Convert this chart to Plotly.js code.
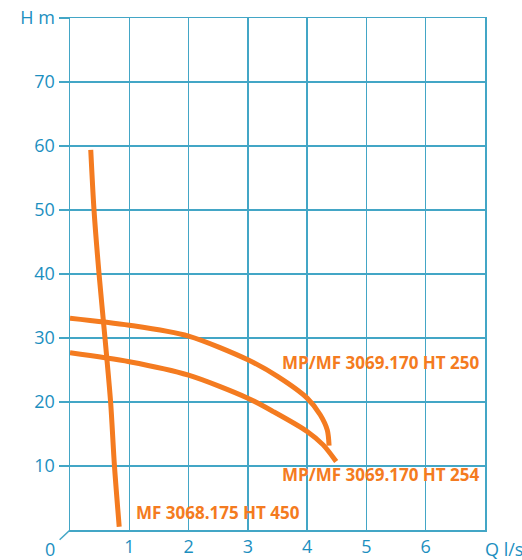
<!DOCTYPE html>
<html>
<head>
<meta charset="utf-8">
<script src="https://cdn.plot.ly/plotly-3.0.1.min.js"></script>
<style>html,body{margin:0;padding:0;background:#fff;}#chart{width:522px;height:560px;}</style>
</head>
<body>
<div id="chart"></div>
<script>
// Data
const curve250Q = [0, 1, 2, 3, 3.5, 4, 4.22, 4.34, 4.37];
const curve250H = [33.1, 32.0, 30.3, 26.6, 24.0, 20.6, 18.0, 15.6, 13.2];
const curve254Q = [0, 1, 2, 3, 3.43, 4, 4.27, 4.49];
const curve254H = [27.7, 26.3, 24.2, 20.6, 18.5, 15.4, 13.3, 10.7];
const curve450Q = [0.35, 0.405, 0.49, 0.59, 0.685, 0.75, 0.83];
const curve450H = [59.4, 50, 40, 30, 20, 10, 0.5];
const xTickVals = [1, 2, 3, 4, 5, 6, 7];
const xTickText = ['1', '2', '3', '4', '5', '6', ''];
const yTickVals = [10, 20, 30, 40, 50, 60, 70, 80];
const yTickText = ['10', '20', '30', '40', '50', '60', '70', 'H m'];
const label250 = 'MP/MF 3069.170 HT 250';
const label254 = 'MP/MF 3069.170 HT 254';
const label450 = 'MF 3068.175 HT 450';

const orange = '#f47b20';
const blue = '#1c8fbf';
const grid = '#43a6c6';
const lineStyle = {color: orange, width: 5, shape: 'spline', smoothing: 0.8};

const traces = [
  {x: curve250Q, y: curve250H, mode: 'lines', line: lineStyle, hoverinfo: 'skip'},
  {x: curve254Q, y: curve254H, mode: 'lines', line: lineStyle, hoverinfo: 'skip'},
  {x: curve450Q, y: curve450H, mode: 'lines', line: lineStyle, hoverinfo: 'skip'}
];

const labelFont = {family: 'Open Sans, sans-serif', size: 17, color: orange, weight: 'bold'};
const tickFont = {family: 'Open Sans, sans-serif', size: 18, color: blue};

const layout = {
  width: 522, height: 560,
  margin: {l: 70, r: 37, t: 18, b: 30, pad: 0},
  paper_bgcolor: '#fff', plot_bgcolor: '#fff',
  showlegend: false,
  xaxis: {
    range: [0, 7], tickvals: xTickVals, ticktext: xTickText,
    showgrid: true, gridcolor: grid, gridwidth: 1.5,
    showline: true, linecolor: grid, linewidth: 1.5, mirror: true,
    ticks: '', zeroline: false, tickfont: tickFont, fixedrange: true
  },
  yaxis: {
    range: [0, 80], tickvals: yTickVals, ticktext: yTickText,
    showgrid: true, gridcolor: grid, gridwidth: 1.5,
    showline: true, linecolor: grid, linewidth: 1.5, mirror: true,
    ticks: 'outside', ticklen: 10, tickcolor: grid, tickwidth: 1.5,
    zeroline: false, tickfont: tickFont, fixedrange: true
  },
  shapes: [
    {type: 'line', xref: 'paper', yref: 'paper', x0: 0, y0: 0, x1: -0.025, y1: -0.019,
     line: {color: grid, width: 1.5}}
  ],
  annotations: [
    {text: label250, xref: 'x', yref: 'y', x: 3.54, y: 26.2, xanchor: 'left', yanchor: 'middle', showarrow: false, font: labelFont},
    {text: label254, xref: 'x', yref: 'y', x: 3.54, y: 8.6, xanchor: 'left', yanchor: 'middle', showarrow: false, font: labelFont},
    {text: label450, xref: 'x', yref: 'y', x: 1.08, y: 2.66, xanchor: 'left', yanchor: 'middle', showarrow: false, font: labelFont},
    {text: 'Q l/s', xref: 'x', yref: 'paper', x: 6.96, y: 0, yshift: -19, xanchor: 'left', yanchor: 'middle', showarrow: false, font: tickFont},
    {text: '0', xref: 'paper', yref: 'paper', x: -0.048, y: 0, yshift: -19, xanchor: 'center', yanchor: 'middle', showarrow: false, font: tickFont}
  ]
};

Plotly.newPlot('chart', traces, layout, {staticPlot: true, displayModeBar: false});
</script>
</body>
</html>
